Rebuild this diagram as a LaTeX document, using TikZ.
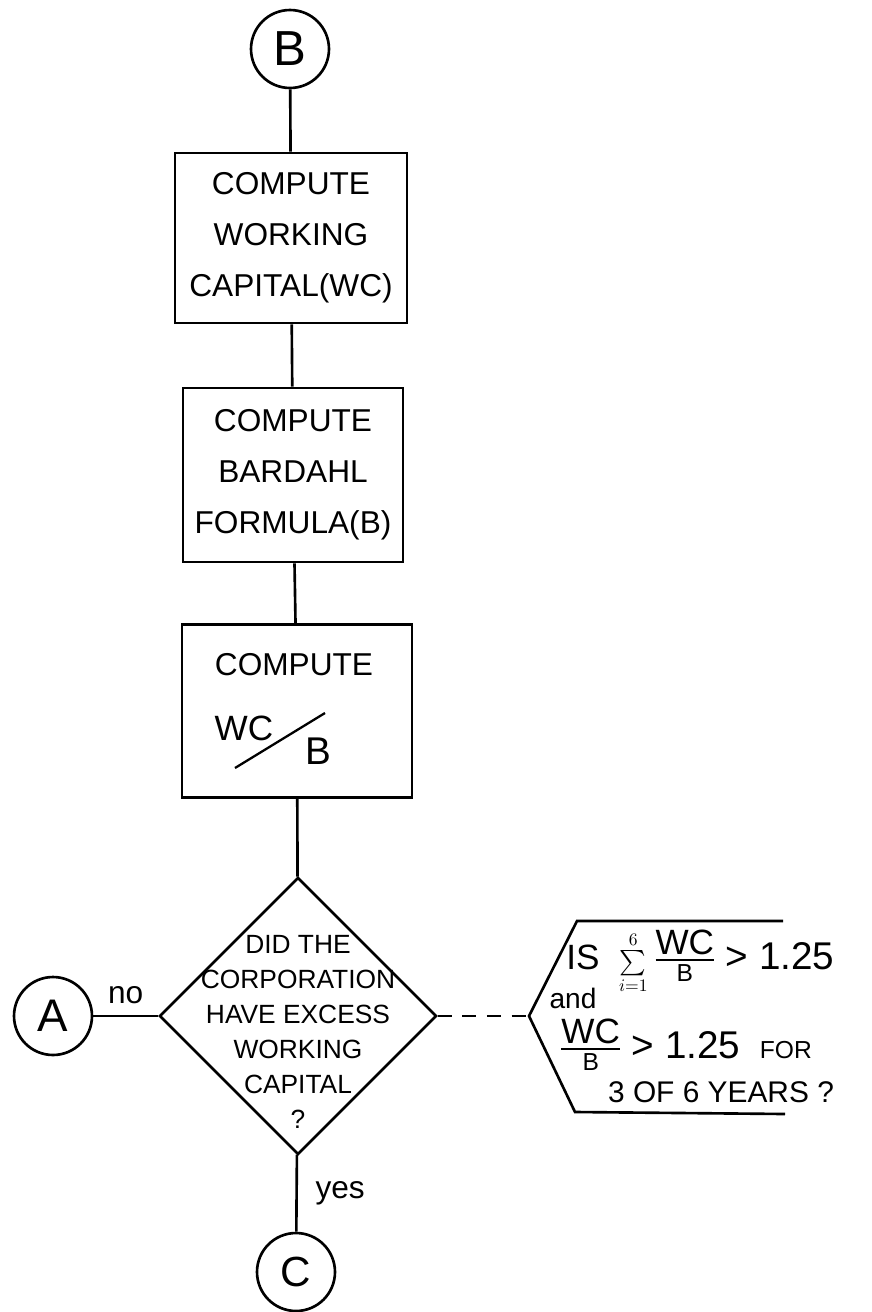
\documentclass[tikz,border=0pt]{standalone}
\usepackage{amsmath}
\usepackage{fontspec}
\setmainfont{Liberation Sans}
\usetikzlibrary{shapes.geometric}

\begin{document}
\begin{tikzpicture}[
  x=0.02cm, y=-0.02cm, line width=1.5pt,
  every node/.style={inner sep=0pt, font=\fontsize{18}{29}\selectfont}
]
\tikzset{
  conector/.style={draw, circle, minimum size=1.56cm},
  caixa/.style={draw, rectangle, align=center},
  decisao/.style={draw, diamond, minimum width=5.54cm, minimum height=5.54cm},
  rotulo/.style={font=\fontsize{18}{18}\selectfont},
  nota/.style={anchor=west, font=\fontsize{20}{20}\selectfont}
}
\newcommand{\razaowb}{\frac{\mbox{WC}}{\mbox{\fontsize{14}{14}\selectfont B}}}
\useasboundingbox (0,0) rectangle (872,1312);

% coluna principal
\node[conector, font=\fontsize{28}{28}\selectfont] (B) at (290,49) {B};
\node[caixa, minimum width=4.64cm, minimum height=3.40cm] (wc) at (291,238)
  {COMPUTE\\WORKING\\CAPITAL(WC)};
\node[caixa, minimum width=4.40cm, minimum height=3.48cm] (bardahl) at (293,475)
  {COMPUTE\\BARDAHL\\FORMULA(B)};
\node[caixa, minimum width=4.60cm, minimum height=3.46cm] (razao) at (297,711) {};
\node (razaoT) at (294,665) {COMPUTE};
\node[font=\fontsize{20}{20}\selectfont] (razaoWC) at (244,728) {WC};
\node[font=\fontsize{22}{22}\selectfont] (razaoB) at (318,751) {B};
\draw[line width=1.3pt] (235,768) -- (325,713);

\node[decisao] (exc) at (298,1016) {};
\node[font=\fontsize{15}{20}\selectfont, align=center] (excT) at (298,1032)
  {DID THE\\CORPORATION\\HAVE EXCESS\\WORKING\\CAPITAL\\?};

\node[conector, font=\fontsize{26}{26}\selectfont] (A) at (53,1016) {A};
\node[conector, font=\fontsize{24}{24}\selectfont] (C) at (296,1272) {C};

\draw (B) -- (wc);
\draw (wc) -- (bardahl);
\draw (bardahl) -- (razao);
\draw (razao) -- (exc);
\draw (exc) -- node[rotulo, above=6pt] {no} (A);
\draw (exc) -- node[rotulo, right=10pt] {yes} (C);

% nota ao lado da decisao
\coordinate (chave) at (529,1016);
\draw[dash pattern=on 8pt off 6pt] (exc.east) -- (chave);
\draw (783,921) -- (577,921) -- (chave) -- (575,1112) -- (785,1114);
\node[nota] (cond1) at (565,962)
  {IS\ \ {\fontsize{14}{14}\selectfont$\sum\limits_{i=1}^{6}$}\,$\razaowb$\
   {\fontsize{22}{22}\selectfont > 1.25}};
\node[font=\fontsize{16}{16}\selectfont] (e) at (573,998) {and};
\node[nota] (cond2) at (558,1045)
  {$\razaowb$\ {\fontsize{22}{22}\selectfont > 1.25}\ \ {\fontsize{14}{14}\selectfont FOR}};
\node[font=\fontsize{17}{17}\selectfont] (cond3) at (721,1092) {3 OF 6 YEARS ?};
\end{tikzpicture}
\end{document}
